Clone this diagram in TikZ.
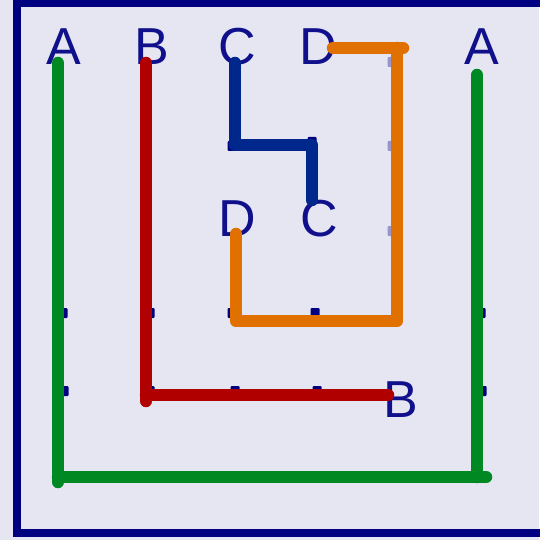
\documentclass[tikz,border=0pt]{standalone}
\usepackage{fontspec}
\setmainfont{Liberation Sans}
\definecolor{bgc}{RGB}{230,230,242}
\definecolor{navy}{RGB}{0,0,128}
\definecolor{lettc}{RGB}{16,16,140}
\definecolor{gline}{RGB}{0,136,34}
\definecolor{rline}{RGB}{176,0,0}
\definecolor{bline}{RGB}{0,40,140}
\definecolor{oline}{RGB}{224,112,0}
\definecolor{faint}{RGB}{150,150,200}
\begin{document}
\begin{tikzpicture}[x=1pt,y=-1pt,
  lett/.style={text=lettc,font=\fontsize{52}{52}\selectfont,inner sep=0pt,anchor=base},
  wire/.style={line width=12.5pt,line cap=round,line join=round},
  gdot/.style={fill=navy,draw=none,minimum width=9pt,minimum height=10pt,inner sep=0pt,rounded corners=1pt},
  fdot/.style={gdot,fill=faint}]
\useasboundingbox (0,0) rectangle (539,540);
\fill[bgc] (0,0) rectangle (539,540);
\draw[navy,line width=8pt] (17,3) -- (560,3) (17,-5) -- (17,533) (13,533) -- (560,533);
% grid dots
\foreach \x/\y [count=\i] in {63/313,150/313,232/313,315/313,481/313,
  64/391,150/391,235/391,317/391,482/391,232/146,312/142}
  \node[gdot] (g\i) at (\x,\y) {};
\foreach \y [count=\i] in {62,146,231}
  \node[fdot] (f\i) at (392,\y) {};
% letters
\node[lett] (A1) at (64,65) {A};
\node[lett] (B1) at (152,65) {B};
\node[lett] (C1) at (237,65) {C};
\node[lett] (D1) at (318,65) {D};
\node[lett] (A2) at (482,65) {A};
\node[lett] (D2) at (237,236) {D};
\node[lett] (C2) at (319,236) {C};
\node[lett] (B2) at (401,417) {B};
% corner coordinates
\coordinate (ga) at (58,63);
\coordinate (gb) at (58,482);
\coordinate (gc) at (58,477);
\coordinate (gd) at (486,477);
\coordinate (ge) at (477,477);
\coordinate (gf) at (477,75);
\coordinate (ra) at (146,63);
\coordinate (rb) at (146,401);
\coordinate (rc) at (146,395);
\coordinate (rd) at (388,395);
\coordinate (ba) at (235,63);
\coordinate (bb) at (235,145);
\coordinate (bc) at (312,145);
\coordinate (bd) at (312,200);
\coordinate (oa) at (333,48);
\coordinate (ob) at (403,48);
\coordinate (oc) at (397,48);
\coordinate (od) at (397,321);
\coordinate (oe) at (236,321);
\coordinate (of) at (236,234);
% wires
\draw[wire,gline] (ga) -- (gb);
\draw[wire,gline] (gc) -- (gd);
\draw[wire,gline] (gf) -- (ge);
\draw[wire,rline] (ra) -- (rb);
\draw[wire,rline] (rc) -- (rd);
\draw[wire,bline] (ba) -- (bb) -- (bc) -- (bd);
\draw[wire,oline] (oa) -- (ob);
\draw[wire,oline] (oc) -- (od) -- (oe) -- (of);
\end{tikzpicture}
\end{document}
